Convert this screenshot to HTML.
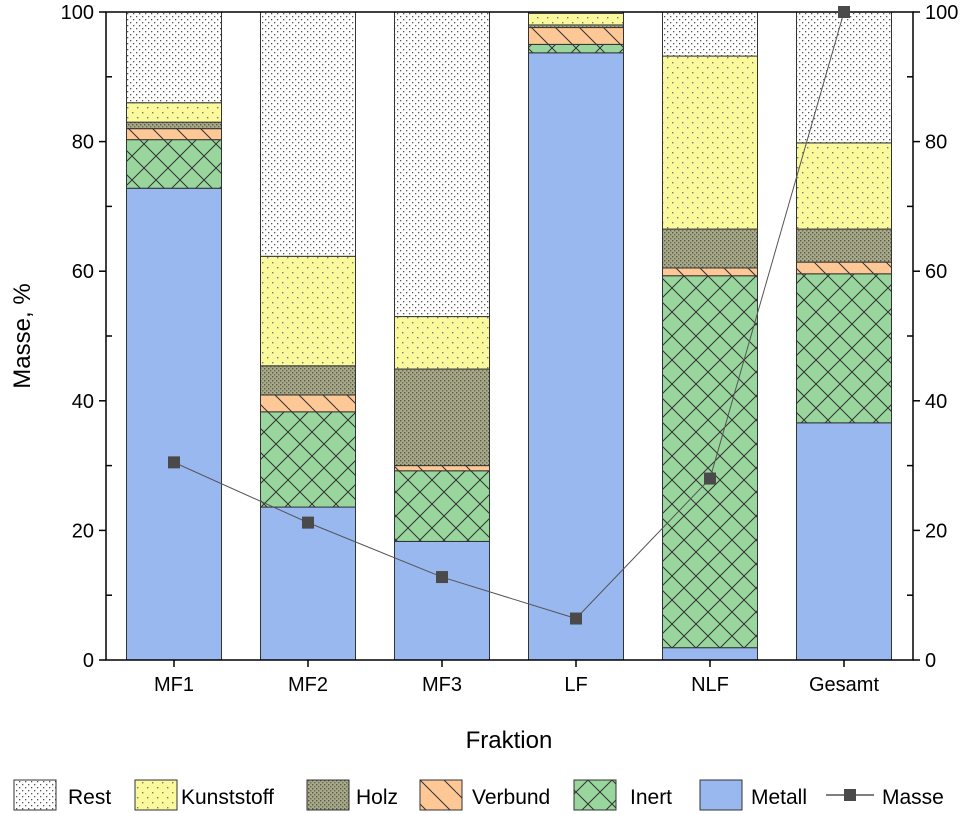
<!DOCTYPE html>
<html><head><meta charset="utf-8"><style>
body{margin:0;background:#fff;}
svg{display:block;font-family:"Liberation Sans",sans-serif;}
</style></head><body>
<svg id="chart" width="969" height="814" viewBox="0 0 969 814">
<defs>
<pattern id="pRest" width="6" height="6" patternUnits="userSpaceOnUse"><rect width="6" height="6" fill="#fff"/><rect x="1" y="1" width="1.3" height="1.3" fill="#555"/><rect x="4" y="4" width="1.3" height="1.3" fill="#555"/></pattern>
<pattern id="pKunst" width="10" height="10" patternUnits="userSpaceOnUse"><rect width="10" height="10" fill="#fafa9c"/><rect x="2" y="2" width="1.4" height="1.4" fill="#777"/><rect x="7" y="7" width="1.4" height="1.4" fill="#777"/></pattern>
<pattern id="pHolz" width="4" height="4" patternUnits="userSpaceOnUse"><rect width="4" height="4" fill="#a9ab85"/><rect x="0" y="0" width="1.4" height="1.4" fill="#555"/><rect x="2" y="2" width="1.4" height="1.4" fill="#666"/></pattern>
<pattern id="pVerb" width="24" height="24" patternUnits="userSpaceOnUse"><rect width="24" height="24" fill="#fdc896"/><path d="M0,0 L24,24 M-12,12 L0,24 M12,-12 L36,12" stroke="#333" stroke-width="1"/></pattern>
<pattern id="pInert" width="24" height="24" patternUnits="userSpaceOnUse"><rect width="24" height="24" fill="#99d69e"/><path d="M0,0 L24,24 M24,0 L0,24" stroke="#333" stroke-width="1"/></pattern>
</defs>
<g id="plot"></g>
</svg>
<script>
const categories=["MF1","MF2","MF3","LF","NLF","Gesamt"];
const metall=[72.8,23.6,18.3,93.7,1.9,36.6];
const inert=[7.5,14.7,10.9,1.3,57.4,23.0];
const verbund=[1.7,2.6,0.8,2.6,1.2,1.8];
const holz=[1.0,4.5,14.9,0.4,6.0,5.1];
const kunststoff=[3.0,16.9,8.1,1.8,26.7,13.3];
const rest=[14.0,37.7,47.0,0.2,6.8,20.2];
const masse=[30.5,21.2,12.8,6.4,28.0,100];
const yTicks=[0,20,40,60,80,100];
const seriesNames=["Metall","Inert","Verbund","Holz","Kunststoff","Rest"];
const seriesData=[metall,inert,verbund,holz,kunststoff,rest];
const fills=["#99b8f0","url(#pInert)","url(#pVerb)","url(#pHolz)","url(#pKunst)","url(#pRest)"];

const L=106,R=913,T=12,B=660;
const y=v=>B-(B-T)*v/100;
const x=i=>174+i*134;
const bw=95;
const NS="http://www.w3.org/2000/svg";
const g=document.getElementById('plot');
function mk(tag,attrs,parent){const e=document.createElementNS(NS,tag);for(const k in attrs)e.setAttribute(k,attrs[k]);(parent||g).appendChild(e);return e;}

categories.forEach((c,i)=>{
  let acc=0;
  seriesData.forEach((s,j)=>{
    const v=s[i];
    const r=mk('rect',{x:x(i)-bw/2,y:y(acc+v),width:bw,height:Math.max(0,y(acc)-y(acc+v)),fill:fills[j],stroke:"#333","stroke-width":1});
    
    
    acc+=v;
  });
});
const fr=mk('rect',{x:L,y:T,width:R-L,height:B-T,fill:"none",stroke:"#000","stroke-width":1.5});


yTicks.forEach(t=>{
  mk('line',{x1:L-7,x2:L,y1:y(t),y2:y(t),stroke:"#000","stroke-width":1.5});
  mk('line',{x1:R,x2:R+7,y1:y(t),y2:y(t),stroke:"#000","stroke-width":1.5});
  const a=mk('text',{x:L-12,y:y(t)+7,"text-anchor":"end","font-size":20});a.textContent=t;
  
  
  const b=mk('text',{x:R+12,y:y(t)+7,"text-anchor":"start","font-size":20});b.textContent=t;
  
  
});
for(let t=10;t<100;t+=20){
  mk('line',{x1:L,x2:L+6,y1:y(t),y2:y(t),stroke:"#000","stroke-width":1.5});
  mk('line',{x1:R-6,x2:R,y1:y(t),y2:y(t),stroke:"#000","stroke-width":1.5});
}
categories.forEach((c,i)=>{
  mk('line',{x1:x(i),x2:x(i),y1:B,y2:B+7,stroke:"#000","stroke-width":1.5});
  const t=mk('text',{x:x(i),y:B+31,"text-anchor":"middle","font-size":20});t.textContent=c;
  
  
});
const pl=mk('polyline',{points:masse.map((v,i)=>x(i)+","+y(v)).join(" "),fill:"none",stroke:"#555","stroke-width":1});


masse.forEach((v,i)=>{
  const p=mk('rect',{x:x(i)-6,y:y(v)-6,width:12,height:12,fill:"#4a4a4a"});
  
  
});
const yt=mk('text',{x:0,y:0,transform:"translate(30,336) rotate(-90)","text-anchor":"middle","font-size":24});yt.textContent="Masse, %";


const xt=mk('text',{x:509,y:748,"text-anchor":"middle","font-size":24});xt.textContent="Fraktion";


const leg=[["Rest","url(#pRest)",14,68],["Kunststoff","url(#pKunst)",135,181],["Holz","url(#pHolz)",307,356],["Verbund","url(#pVerb)",420,472],["Inert","url(#pInert)",574,630],["Metall","#99b8f0",700,751]];
leg.forEach(l=>{
  const r=mk('rect',{x:l[2],y:780,width:42,height:30,fill:l[1],stroke:"#333","stroke-width":1});
  
  
  const t=mk('text',{x:l[3],y:804,"font-size":21});t.textContent=l[0];
  
  
});
mk('line',{x1:826,x2:874,y1:795,y2:795,stroke:"#555","stroke-width":1.5});
const ms=mk('rect',{x:844,y:789,width:12,height:12,fill:"#4a4a4a"});


const mt=mk('text',{x:882,y:804,"font-size":21});mt.textContent="Masse";


</script>
</body></html>
